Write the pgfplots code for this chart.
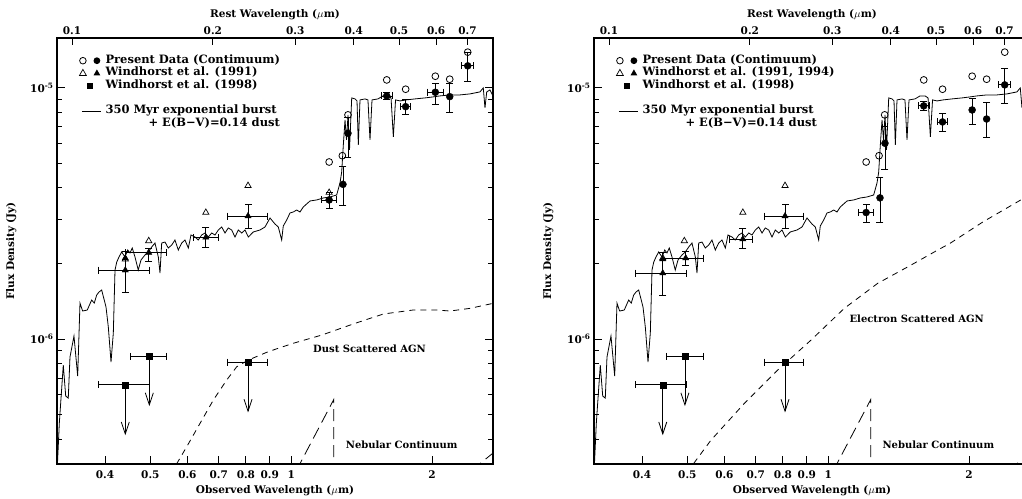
\documentclass[border=0pt]{standalone}
\usepackage{fontspec}
\setmainfont{DejaVu Serif}
\usepackage{pgfplots}
\pgfplotsset{compat=1.18}
\usepackage{pgfplotstable}
\usetikzlibrary{arrows.meta}
\newcommand{\lab}{\fontsize{10.5bp}{12bp}\selectfont\bfseries}
\newcommand{\leg}{\fontsize{11.5bp}{12.6bp}\selectfont\bfseries}
\newcommand{\ann}{\fontsize{10bp}{12bp}\selectfont\bfseries}

\pgfplotstableread{
x y
0.3167 3.236e-7
0.3195 4.628e-7
0.3258 7.877e-7
0.3297 5.929e-7
0.3339 5.818e-7
0.3367 8.479e-7
0.3434 1.028e-6
0.3497 7.121e-7
0.3537 1.391e-6
0.3584 1.293e-6
0.3666 1.305e-6
0.3746 1.430e-6
0.3795 1.391e-6
0.3840 1.497e-6
0.3884 1.539e-6
0.3936 1.568e-6
0.4020 1.341e-6
0.4066 1.116e-6
0.4120 8.098e-7
0.4167 1.056e-6
0.4202 1.883e-6
0.4238 2.026e-6
0.4285 2.122e-6
0.4342 2.222e-6
0.4413 2.122e-6
0.4473 2.262e-6
0.4523 2.202e-6
0.4574 2.304e-6
0.4636 2.122e-6
0.4711 1.883e-6
0.4775 2.064e-6
0.4869 2.161e-6
0.4950 2.222e-6
0.5033 2.325e-6
0.5115 2.412e-6
0.5200 2.122e-6
0.5243 1.832e-6
0.5287 2.412e-6
0.5374 2.434e-6
0.5461 2.304e-6
0.5554 2.368e-6
0.5644 2.480e-6
0.5737 2.262e-6
0.5834 2.412e-6
0.5929 2.480e-6
0.6027 2.304e-6
0.6107 2.596e-6
0.6229 2.548e-6
0.6330 2.480e-6
0.6437 2.596e-6
0.6542 2.644e-6
0.6650 2.548e-6
0.6763 2.644e-6
0.6873 2.596e-6
0.6986 2.718e-6
0.7103 2.794e-6
0.7220 2.644e-6
0.7337 2.769e-6
0.7462 2.718e-6
0.7583 2.548e-6
0.7708 2.718e-6
0.7839 2.644e-6
0.7966 2.718e-6
0.8097 2.548e-6
0.8297 2.669e-6
0.8575 2.718e-6
0.8790 2.794e-6
0.9008 3.034e-6
0.9232 2.872e-6
0.9384 2.794e-6
0.9541 2.480e-6
0.9616 2.820e-6
0.9779 2.979e-6
0.9940 3.177e-6
1.0102 3.206e-6
1.0273 3.265e-6
1.0440 3.206e-6
1.0612 3.357e-6
1.0789 3.451e-6
1.0968 3.547e-6
1.1334 3.580e-6
1.1708 3.646e-6
1.2100 3.679e-6
1.2505 3.747e-6
1.2712 4.183e-6
1.2818 4.627e-6
1.2922 5.927e-6
1.3030 7.456e-6
1.3126 6.206e-6
1.3223 7.806e-6
1.3321 5.662e-6
1.3466 9.124e-6
1.3688 9.040e-6
1.3822 8.875e-6
1.3911 5.927e-6
1.4027 8.957e-6
1.4377 9.040e-6
1.4588 8.957e-6
1.4734 6.206e-6
1.4880 8.957e-6
1.5326 9.040e-6
1.5708 9.293e-6
1.6103 9.293e-6
1.6343 9.124e-6
1.6528 6.380e-6
1.6708 8.957e-6
1.7081 8.875e-6
1.7592 8.957e-6
1.8391 9.040e-6
1.9316 9.124e-6
2.0091 9.208e-6
2.0797 9.293e-6
2.1844 9.378e-6
2.2943 9.378e-6
2.4099 9.465e-6
2.5309 9.640e-6
2.5726 1.000e-5
2.5942 8.325e-6
2.6163 9.640e-6
2.6591 9.818e-6
2.6986 9.293e-6
}\spectrum

\pgfplotstableread{
x y
0.5686 3.177e-7
0.5978 3.723e-7
0.6384 4.615e-7
0.6817 5.715e-7
0.7279 6.866e-7
0.7647 7.755e-7
0.8097 8.248e-7
0.8920 8.900e-7
1.0088 9.614e-7
1.1617 1.037e-6
1.3688 1.155e-6
1.5730 1.258e-6
1.8210 1.305e-6
2.0460 1.305e-6
2.1844 1.293e-6
2.4099 1.325e-6
2.7030 1.388e-6
}\dustagn

\pgfplotstableread{
x y
0.5158 3.197e-7
0.5617 3.959e-7
0.6618 5.544e-7
0.7798 7.522e-7
0.9189 9.908e-7
1.0822 1.325e-6
1.2757 1.667e-6
1.5031 1.971e-6
1.7140 2.262e-6
1.8210 2.405e-6
2.1450 2.934e-6
2.5942 3.603e-6
}\elecagn

\newcommand{\legimgs}[1]{%
\addlegendimage{legend image code/.code={
  \path[draw=none] (0bp,0bp) -- (27bp,0bp);
  \draw[line width=0.8bp, fill=none] (6.7bp,0bp) circle (3.3bp);
  \fill[draw=none] (20.7bp,0bp) circle (3.4bp);}}
\addlegendentry{Present Data (Contimuum)}
\addlegendimage{legend image code/.code={
  \path[draw=none] (0bp,0bp) -- (27bp,0bp);
  \draw[line width=0.7bp, line join=miter, fill=none] (3.3bp,-2.1bp) -- (10.1bp,-2.1bp) -- (6.7bp,3.9bp) -- cycle;
  \fill[draw=none] (17.3bp,-2.1bp) -- (24.1bp,-2.1bp) -- (20.7bp,3.9bp) -- cycle;}}
\addlegendentry{#1}
\addlegendimage{legend image code/.code={
  \path[draw=none] (0bp,0bp) -- (27bp,0bp);
  \fill[draw=none] (11bp,-3bp) rectangle (17bp,3bp);}}
\addlegendentry{Windhorst et al. (1998)}
\addlegendimage{legend image code/.code={\path[draw=none] (0bp,0bp) -- (27bp,0bp);}}
\addlegendentry{\strut}
\addlegendimage{legend image code/.code={
  \path[draw=none] (0bp,0bp) -- (27bp,0bp);
  \draw[line width=0.8bp] (5.7bp,0bp) -- (24.7bp,0bp);}}
\addlegendentry{350 Myr exponential burst}
\addlegendimage{legend image code/.code={\path[draw=none] (0bp,0bp) -- (27bp,0bp);}}
\addlegendentry{\hspace*{43bp}+ E(B−V)=0.14 dust}
}

\begin{document}
\begin{tikzpicture}
\path[use as bounding box] (0,0) rectangle (1022bp,499bp);

% ================= LEFT PANEL =================
\begin{axis}[at={(57bp,35bp)}, anchor=south west,
    scale only axis, width=436bp, height=426bp,
    xmode=log, ymode=log,
    xmin=0.31586, xmax=2.6986, ymin=3.18e-7, ymax=1.58e-5,
    axis line style={line width=1.4bp},
    every tick/.style={black, line width=0.9bp},
    major tick length=8bp, minor tick length=5bp,
    tick align=inside,
    xtick={0.4,0.5,0.6,0.7,0.8,0.9,1,2},
    xticklabels={0.4,0.5,0.6,0.7,0.8,0.9,1,2},
    xminorticks=false,
    xtick pos=left, ytick pos=both,
    ytick={1e-6,1e-5},
    yticklabels={10\textsuperscript{-6},10\textsuperscript{-5}},
    minor ytick={4e-7,5e-7,6e-7,7e-7,8e-7,9e-7,2e-6,3e-6,4e-6,5e-6,6e-6,7e-6,8e-6,9e-6},
    tick label style={font=\lab},
    xticklabel style={yshift=-3bp},
    label style={font=\lab},
    xlabel={Observed Wavelength ($\mu$m)},
    ylabel={Flux Density (Jy)},
    ylabel shift=7bp,
    legend cell align=left,
    legend style={at={(0.0436,0.962)}, anchor=north west, draw=none, fill=none,
      inner sep=0pt, font=\leg, row sep=0bp, column sep=1bp,
      nodes={inner sep=1.3bp, text height=7.6bp, text depth=2.4bp}},
]
\legimgs{Windhorst et al. (1991)}
\addplot[black, line width=0.8bp, no marks, forget plot] table[x=x,y=y] {\spectrum};
\addplot[black, line width=0.8bp, no marks, dash pattern=on 6bp off 5bp, forget plot] table[x=x,y=y] {\dustagn};
\addplot[black, line width=0.8bp, no marks, dash pattern=on 12bp off 6bp, forget plot] coordinates {(1.026,3.0e-7) (1.233,5.75e-7) (1.233,3.0e-7)};
\addplot[black, line width=0.8bp, no marks, dash pattern=on 12bp off 6bp, forget plot] coordinates {(2.429,3.0e-7) (2.703,3.524e-7)};
% vertical error bars
\addplot[black, line width=0.8bp, unbounded coords=jump, mark=-, mark size=3.5bp, forget plot] coordinates {
(1.205,3.30e-6) (1.205,3.83e-6) (1.205,nan)
(1.290,3.42e-6) (1.290,4.86e-6) (1.290,nan)
(1.322,5.31e-6) (1.322,7.6e-6) (1.322,nan)
(1.600,9.02e-6) (1.600,9.64e-6) (1.600,nan)
(1.756,7.81e-6) (1.756,8.96e-6) (1.756,nan)
(2.032,8.63e-6) (2.032,1.044e-5) (2.032,nan)
(2.181,7.97e-6) (2.181,1.044e-5) (2.181,nan)
(2.383,1.060e-5) (2.383,1.388e-5) (2.383,nan)
(0.442,1.53e-6) (0.442,2.24e-6) (0.442,nan)
(0.496,2.04e-6) (0.496,2.30e-6) (0.496,nan)
(0.657,2.32e-6) (0.657,2.79e-6) (0.657,nan)
(0.8085,2.77e-6) (0.8085,3.45e-6)
};
% horizontal error bars
\addplot[black, line width=0.8bp, unbounded coords=jump, mark=|, mark size=3.5bp, forget plot] coordinates {
(1.158,3.58e-6) (1.2505,3.58e-6) (nan,3.58e-6)
(1.555,9.29e-6) (1.644,9.29e-6) (nan,9.29e-6)
(1.708,8.42e-6) (1.800,8.42e-6) (nan,8.42e-6)
(1.957,9.61e-6) (2.113,9.61e-6) (nan,9.61e-6)
(2.313,1.224e-5) (2.449,1.224e-5) (nan,1.224e-5)
(0.387,1.88e-6) (0.4975,1.88e-6) (nan,1.88e-6)
(0.442,2.21e-6) (0.542,2.21e-6) (nan,2.21e-6)
(0.617,2.54e-6) (0.699,2.54e-6) (nan,2.54e-6)
(0.732,3.09e-6) (0.888,3.09e-6) (nan,3.09e-6)
(0.387,6.58e-7) (0.4975,6.58e-7) (nan,6.58e-7)
(0.453,8.53e-7) (0.541,8.53e-7) (nan,8.53e-7)
(0.732,8.10e-7) (0.888,8.10e-7)
};
\addplot[black, line width=0.8bp, no marks, -{Straight Barb[length=12bp,width=8bp]}, forget plot] coordinates {(0.442,6.58e-7) (0.442,4.14e-7)};
\addplot[black, line width=0.8bp, no marks, -{Straight Barb[length=12bp,width=8bp]}, forget plot] coordinates {(0.4975,8.53e-7) (0.4975,5.41e-7)};
\addplot[black, line width=0.8bp, no marks, -{Straight Barb[length=12bp,width=8bp]}, forget plot] coordinates {(0.8085,8.10e-7) (0.8085,5.10e-7)};
% markers
\addplot[only marks, mark=square*, mark size=3bp, black, forget plot] coordinates {(0.442,6.58e-7) (0.4975,8.53e-7) (0.8085,8.10e-7)};
\addplot[only marks, mark=triangle*, mark size=3.6bp, black, forget plot] coordinates {(0.442,1.88e-6) (0.442,2.10e-6) (0.496,2.21e-6) (0.657,2.54e-6) (0.8085,3.09e-6)};
\addplot[only marks, mark=triangle, mark size=3.6bp, black, line width=0.7bp, forget plot] coordinates {(0.442,2.08e-6) (0.496,2.46e-6) (0.657,3.19e-6) (0.8085,4.08e-6) (1.205,3.83e-6)};
\addplot[only marks, mark=*, mark size=3.5bp, black, forget plot] coordinates {(1.205,3.58e-6) (1.290,4.13e-6) (1.322,6.60e-6) (1.600,9.29e-6) (1.756,8.42e-6) (2.032,9.61e-6) (2.181,9.23e-6) (2.383,1.224e-5)};
\addplot[only marks, mark=o, mark size=3.4bp, black, line width=0.8bp, forget plot] coordinates {(1.205,5.07e-6) (1.286,5.37e-6) (1.322,7.81e-6) (1.600,1.076e-5) (1.756,9.88e-6) (2.032,1.113e-5) (2.181,1.083e-5) (2.383,1.388e-5)};
\node[font=\ann] at (axis cs:1.4697,9.125e-7) {Dust Scattered AGN};
\node[font=\ann] at (axis cs:1.722,3.806e-7) {Nebular Continuum};
\end{axis}
\begin{axis}[at={(57bp,35bp)}, anchor=south west,
    scale only axis, width=436bp, height=426bp,
    xmode=log, xmin=0.092900, xmax=0.79371, ymin=0, ymax=1,
    axis y line=none, axis x line*=top,
    x axis line style={-, line width=1.4bp},
    every tick/.style={black, line width=0.9bp},
    major tick length=7bp, tick align=inside,
    xtick={0.1,0.2,0.3,0.4,0.5,0.6,0.7},
    xticklabels={0.1,0.2,0.3,0.4,0.5,0.6,0.7},
    xminorticks=false,
    tick label style={font=\lab},
    label style={font=\lab},
    xlabel={Rest Wavelength ($\mu$m)},
]
\addplot[draw=none, forget plot] coordinates {(0.2,0.5)};
\end{axis}

% ================= RIGHT PANEL =================
\begin{axis}[at={(594bp,35bp)}, anchor=south west,
    scale only axis, width=436bp, height=426bp,
    xmode=log, ymode=log,
    xmin=0.31586, xmax=2.6986, ymin=3.18e-7, ymax=1.58e-5,
    axis line style={line width=1.4bp},
    every tick/.style={black, line width=0.9bp},
    major tick length=8bp, minor tick length=5bp,
    tick align=inside,
    xtick={0.4,0.5,0.6,0.7,0.8,0.9,1,2},
    xticklabels={0.4,0.5,0.6,0.7,0.8,0.9,1,2},
    xminorticks=false,
    xtick pos=left, ytick pos=both,
    ytick={1e-6,1e-5},
    yticklabels={10\textsuperscript{-6},10\textsuperscript{-5}},
    minor ytick={4e-7,5e-7,6e-7,7e-7,8e-7,9e-7,2e-6,3e-6,4e-6,5e-6,6e-6,7e-6,8e-6,9e-6},
    tick label style={font=\lab},
    xticklabel style={yshift=-3bp},
    label style={font=\lab},
    xlabel={Observed Wavelength ($\mu$m)},
    ylabel={Flux Density (Jy)},
    ylabel shift=7bp,
    legend cell align=left,
    legend style={at={(0.0436,0.962)}, anchor=north west, draw=none, fill=none,
      inner sep=0pt, font=\leg, row sep=0bp, column sep=1bp,
      nodes={inner sep=1.3bp, text height=7.6bp, text depth=2.4bp}},
]
\legimgs{Windhorst et al. (1991, 1994)}
\addplot[black, line width=0.8bp, no marks, forget plot] table[x=x,y=y] {\spectrum};
\addplot[black, line width=0.8bp, no marks, dash pattern=on 6bp off 5bp, forget plot] table[x=x,y=y] {\elecagn};
\addplot[black, line width=0.8bp, no marks, dash pattern=on 12bp off 6bp, forget plot] coordinates {(1.026,3.0e-7) (1.233,5.75e-7) (1.233,3.0e-7)};
\addplot[black, line width=0.8bp, no marks, dash pattern=on 12bp off 6bp, forget plot] coordinates {(2.429,3.0e-7) (2.703,3.524e-7)};
\addplot[black, line width=0.8bp, unbounded coords=jump, mark=-, mark size=3.5bp, forget plot] coordinates {
(1.205,2.91e-6) (1.205,3.44e-6) (1.205,nan)
(1.290,2.92e-6) (1.290,4.39e-6) (1.290,nan)
(1.322,4.75e-6) (1.322,7.0e-6) (1.322,nan)
(1.600,8.17e-6) (1.600,8.82e-6) (1.600,nan)
(1.755,6.74e-6) (1.755,7.93e-6) (1.755,nan)
(2.030,7.17e-6) (2.030,9.10e-6) (2.030,nan)
(2.180,6.34e-6) (2.180,8.77e-6) (2.180,nan)
(2.383,8.69e-6) (2.383,1.198e-5) (2.383,nan)
(0.443,1.49e-6) (0.443,2.22e-6) (0.443,nan)
(0.496,1.97e-6) (0.496,2.24e-6) (0.496,nan)
(0.657,2.30e-6) (0.657,2.76e-6) (0.657,nan)
(0.8085,2.77e-6) (0.8085,3.45e-6)
};
\addplot[black, line width=0.8bp, unbounded coords=jump, mark=|, mark size=3.5bp, forget plot] coordinates {
(1.158,3.19e-6) (1.2505,3.19e-6) (nan,3.19e-6)
(1.555,8.48e-6) (1.644,8.48e-6) (nan,8.48e-6)
(1.708,7.32e-6) (1.800,7.32e-6) (nan,7.32e-6)
(2.313,1.028e-5) (2.449,1.028e-5) (nan,1.028e-5)
(0.387,1.83e-6) (0.498,1.83e-6) (nan,1.83e-6)
(0.4414,2.10e-6) (0.5415,2.10e-6) (nan,2.10e-6)
(0.614,2.50e-6) (0.690,2.50e-6) (nan,2.50e-6)
(0.730,3.09e-6) (0.886,3.09e-6) (nan,3.09e-6)
(0.387,6.58e-7) (0.4975,6.58e-7) (nan,6.58e-7)
(0.451,8.53e-7) (0.542,8.53e-7) (nan,8.53e-7)
(0.730,8.10e-7) (0.886,8.10e-7)
};
\addplot[black, line width=0.8bp, no marks, -{Straight Barb[length=12bp,width=8bp]}, forget plot] coordinates {(0.443,6.58e-7) (0.443,4.14e-7)};
\addplot[black, line width=0.8bp, no marks, -{Straight Barb[length=12bp,width=8bp]}, forget plot] coordinates {(0.494,8.53e-7) (0.494,5.41e-7)};
\addplot[black, line width=0.8bp, no marks, -{Straight Barb[length=12bp,width=8bp]}, forget plot] coordinates {(0.8085,8.10e-7) (0.8085,5.10e-7)};
\addplot[only marks, mark=square*, mark size=3bp, black, forget plot] coordinates {(0.443,6.58e-7) (0.494,8.53e-7) (0.8085,8.10e-7)};
\addplot[only marks, mark=triangle*, mark size=3.6bp, black, forget plot] coordinates {(0.443,1.83e-6) (0.443,2.08e-6) (0.496,2.10e-6) (0.657,2.50e-6) (0.8085,3.09e-6)};
\addplot[only marks, mark=triangle, mark size=3.6bp, black, line width=0.7bp, forget plot] coordinates {(0.443,2.10e-6) (0.4926,2.46e-6) (0.657,3.19e-6) (0.8085,4.08e-6)};
\addplot[only marks, mark=*, mark size=3.5bp, black, forget plot] coordinates {(1.205,3.19e-6) (1.290,3.65e-6) (1.322,6.02e-6) (1.600,8.48e-6) (1.755,7.32e-6) (2.030,8.17e-6) (2.180,7.52e-6) (2.383,1.028e-5)};
\addplot[only marks, mark=o, mark size=3.4bp, black, line width=0.8bp, forget plot] coordinates {(1.205,5.07e-6) (1.284,5.37e-6) (1.320,7.81e-6) (1.600,1.076e-5) (1.755,9.88e-6) (2.030,1.113e-5) (2.180,1.083e-5) (2.383,1.388e-5)};
\node[font=\ann] at (axis cs:1.5453,1.202e-6) {Electron Scattered AGN};
\node[font=\ann] at (axis cs:1.719,3.806e-7) {Nebular Continuum};
\end{axis}
\begin{axis}[at={(594bp,35bp)}, anchor=south west,
    scale only axis, width=436bp, height=426bp,
    xmode=log, xmin=0.092900, xmax=0.79371, ymin=0, ymax=1,
    axis y line=none, axis x line*=top,
    x axis line style={-, line width=1.4bp},
    every tick/.style={black, line width=0.9bp},
    major tick length=7bp, tick align=inside,
    xtick={0.1,0.2,0.3,0.4,0.5,0.6,0.7},
    xticklabels={0.1,0.2,0.3,0.4,0.5,0.6,0.7},
    xminorticks=false,
    tick label style={font=\lab},
    label style={font=\lab},
    xlabel={Rest Wavelength ($\mu$m)},
]
\addplot[draw=none, forget plot] coordinates {(0.2,0.5)};
\end{axis}
\end{tikzpicture}
\end{document}
